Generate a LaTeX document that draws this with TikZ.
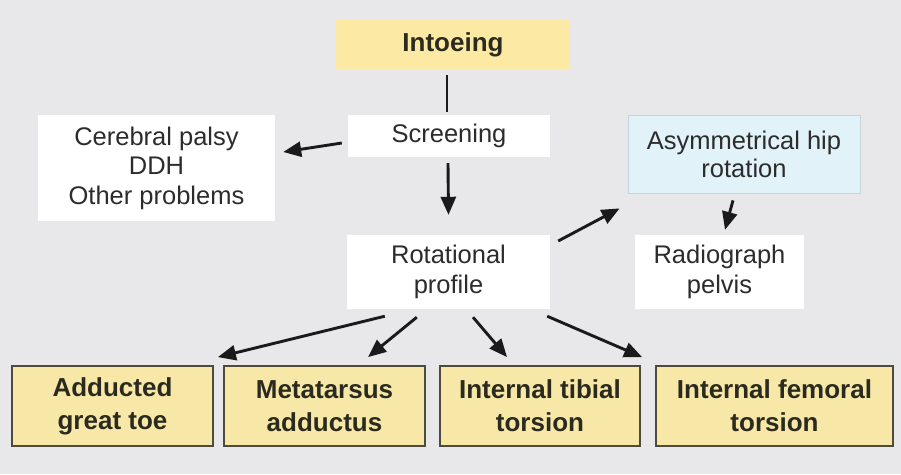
\documentclass[tikz,border=0pt]{standalone}
\usepackage{fontspec}
\setmainfont{Liberation Sans}
\usetikzlibrary{arrows.meta}
\definecolor{bg}{HTML}{E8E8EA}
\definecolor{yel}{HTML}{FBE9A4}
\definecolor{ylow}{HTML}{F8E8A8}
\definecolor{blu}{HTML}{E2F2F9}
\definecolor{bluline}{HTML}{C5D5DE}
\definecolor{txt}{HTML}{2C2C2C}
\definecolor{btxt}{HTML}{2A2A1E}
\definecolor{bord}{HTML}{4E4B3E}
\definecolor{arr}{HTML}{1A1A1A}
\tikzset{
  plain/.style={fill=white, text=txt, align=center, inner sep=0pt,
    font=\fontsize{25.5}{29.5}\selectfont},
  topbox/.style={fill=yel, text=btxt, align=center, inner sep=0pt,
    font=\fontsize{26}{33}\selectfont\bfseries},
  bluebox/.style={fill=blu, draw=bluline, line width=0.8pt, text=txt, align=center, inner sep=0pt,
    font=\fontsize{25.5}{28}\selectfont},
  botbox/.style={fill=ylow, draw=bord, line width=1.8pt, text=btxt, align=center, inner sep=0pt,
    font=\fontsize{26}{33}\selectfont\bfseries},
  conn/.style={draw=arr, line width=2.9pt},
  arrw/.style={conn, -{Triangle[length=18pt,width=15pt]}},
}
\begin{document}
\begin{tikzpicture}[x=1pt,y=-1pt]
\fill[bg] (0,0) rectangle (901,474);
\useasboundingbox (0,0) rectangle (901,474);

\node[topbox, minimum width=234pt, minimum height=50pt] (into) at (453,45) {Intoeing};
\node[plain, minimum width=202pt, minimum height=42pt] (screen) at (449,136) {Screening};
\node[plain, minimum width=237pt, minimum height=106pt] (cp) at (156.5,168) {Cerebral palsy\\DDH\\Other problems};
\node[bluebox, minimum width=232pt, minimum height=78pt] (asym) at (744,154) {Asymmetrical hip\\rotation};
\node[plain, minimum width=203pt, minimum height=74pt] (rot) at (448.5,272) {Rotational\\profile};
\node[plain, minimum width=169pt, minimum height=74pt] (rad) at (719.5,272) {Radiograph\\pelvis};

\node[botbox, minimum width=201pt, minimum height=80pt] (b1) at (112.5,406) {Adducted\\great toe};
\node[botbox, minimum width=201pt, minimum height=80pt] (b2) at (324.5,406) {Metatarsus\\adductus};
\node[botbox, minimum width=200pt, minimum height=80pt] (b3) at (540,406) {Internal tibial\\torsion};
\node[botbox, minimum width=237pt, minimum height=80pt] (b4) at (774.5,406) {Internal femoral\\torsion};

\draw[conn] ([xshift=-6pt,yshift=-5pt]into.south) -- ([xshift=-2pt,yshift=3pt]screen.north);
\draw[arrw] ([xshift=-6pt,yshift=-7pt]screen.west) -- ([xshift=8pt,yshift=16pt]cp.east);
\draw[arrw] ([xshift=-1pt,yshift=-6pt]screen.south) -- ([yshift=20pt]rot.north);
\draw[arrw] ([xshift=8pt,yshift=31pt]rot.east) -- ([xshift=-8pt,yshift=-15pt]asym.south west);
\draw[arrw] ([xshift=-11pt,yshift=-7pt]asym.south) -- ([xshift=5.5pt,yshift=5pt]rad.north);
\draw[arrw] ([xshift=38pt,yshift=-7pt]rot.south west) -- ([xshift=4pt,yshift=8pt]b1.north east);
\draw[arrw] ([xshift=70pt,yshift=-8pt]rot.south west) -- ([xshift=43.5pt,yshift=8pt]b2.north);
\draw[arrw] ([xshift=24.5pt,yshift=-8pt]rot.south) -- ([xshift=-33pt,yshift=8pt]b3.north);
\draw[arrw] ([xshift=-3pt,yshift=-7pt]rot.south east) -- ([xshift=-13pt,yshift=8pt]b4.north west);
\end{tikzpicture}
\end{document}
